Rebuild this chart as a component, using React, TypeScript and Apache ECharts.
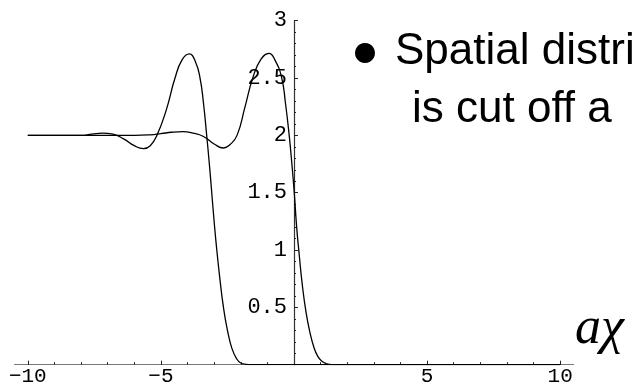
import React, { useEffect, useRef } from "react";
import * as echarts from "echarts";

// Curve that drops first (x, y)
const curveA: [number, number][] = [
  [-10, 2.0], [-9, 2.0], [-8, 2.0], [-7.6, 2.01], [-7.2, 2.02], [-6.8, 2.01],
  [-6.4, 1.97], [-6.0, 1.91], [-5.65, 1.885], [-5.4, 1.91], [-5.15, 2.0],
  [-4.8, 2.22], [-4.47, 2.5], [-4.2, 2.66], [-3.93, 2.71], [-3.7, 2.64],
  [-3.53, 2.5], [-3.4, 2.28], [-3.28, 2.0], [-3.18, 1.75], [-3.09, 1.5],
  [-2.99, 1.22], [-2.9, 1.0], [-2.78, 0.74], [-2.65, 0.5], [-2.5, 0.3],
  [-2.33, 0.14], [-2.15, 0.05], [-2.0, 0.015], [-1.8, 0.003], [-1.6, 0],
  [10, 0],
];

// Curve that drops second (x, y)
const curveB: [number, number][] = [
  [-10, 2.0], [-8, 2.0], [-6, 2.0], [-5.4, 2.005], [-5.0, 2.015], [-4.6, 2.027],
  [-4.17, 2.032], [-3.8, 2.02], [-3.4, 1.99], [-3.0, 1.925], [-2.65, 1.89],
  [-2.4, 1.92], [-2.14, 2.0], [-1.85, 2.24], [-1.55, 2.5], [-1.25, 2.66],
  [-0.94, 2.715], [-0.7, 2.65], [-0.46, 2.5], [-0.32, 2.28], [-0.18, 2.0],
  [-0.08, 1.75], [0.01, 1.5], [0.1, 1.2], [0.2, 0.95], [0.3, 0.72],
  [0.45, 0.46], [0.6, 0.28], [0.75, 0.15], [0.9, 0.07], [1.05, 0.03],
  [1.2, 0.01], [1.4, 0], [10, 0],
];

const xMinorTicks = [-10, -9, -8, -7, -6, -5, -4, -3, -2, -1, 1, 2, 3, 4, 5, 6, 7, 8, 9, 10];
const xMajorTicks = [-10, -5, 5, 10];
const yMajorTicks = [0.5, 1, 1.5, 2, 2.5, 3];

const bulletText = "Spatial distri";
const secondLine = "is cut off a";
const mathLabel = "aχ";

const fmt = (v: number) => (v < 0 ? "\u2212" + String(-v) : String(v));

export default function App() {
  const ref = useRef<HTMLDivElement>(null);
  useEffect(() => {
    if (!ref.current) return;
    const chart = echarts.init(ref.current, undefined, { renderer: "svg" });
    const labelFont = { fontFamily: "Liberation Mono", fontSize: 22, color: "#000" };
    chart.setOption({
      animation: false,
      grid: { left: 14.5, top: 20.7, width: 559, height: 344, containLabel: false, outerBoundsMode: "none" },
      xAxis: [
        {
          type: "value",
          min: -10.5,
          max: 10.5,
          axisLine: { show: true, onZero: false, lineStyle: { color: "#777", width: 1.2 } },
          axisTick: { show: true, inside: true, length: 2.5, customValues: xMinorTicks, lineStyle: { color: "#222" } },
          axisLabel: {
            show: true,
            customValues: xMajorTicks,
            formatter: fmt,
            margin: 1,
            fontFamily: "Liberation Mono",
            fontSize: 21,
            lineHeight: 21,
            color: "#000",
          },
          splitLine: { show: false },
        },
        {
          type: "value",
          min: -10.5,
          max: 10.5,
          position: "bottom",
          axisLine: { show: false, onZero: false },
          axisTick: { show: true, inside: true, length: 4, customValues: xMajorTicks, lineStyle: { color: "#222" } },
          axisLabel: { show: false },
          splitLine: { show: false },
        },
      ],
      yAxis: {
        type: "value",
        min: 0,
        max: 3,
        interval: 0.5,
        position: "left",
        offset: -279.5,
        axisLine: { show: true, onZero: false, lineStyle: { color: "#333", width: 1.2 } },
        axisTick: { show: true, inside: true, length: 4, lineStyle: { color: "#222" } },
        minorTick: { show: true, splitNumber: 5, length: 2, lineStyle: { color: "#222" } },
        axisLabel: {
          show: true,
          margin: 7,
          customValues: yMajorTicks,
          formatter: (v: number) => String(v),
          ...labelFont,
        },
        splitLine: { show: false },
        minorSplitLine: { show: false },
      },
      series: [
        {
          type: "line",
          data: curveA,
          xAxisIndex: 0,
          smooth: 0.5,
          showSymbol: false,
          lineStyle: { color: "#000", width: 1.3 },
          z: 3,
        },
        {
          type: "line",
          data: curveB,
          xAxisIndex: 0,
          smooth: 0.5,
          showSymbol: false,
          lineStyle: { color: "#000", width: 1.3 },
          z: 3,
        },
      ],
      graphic: [
        { type: "circle", shape: { cx: 365, cy: 53, r: 10 }, style: { fill: "#000" } },
        {
          type: "text",
          x: 395,
          y: 48,
          style: { text: bulletText, font: "44px 'Liberation Sans'", fill: "#000", verticalAlign: "middle", align: "left" },
        },
        {
          type: "text",
          x: 412,
          y: 106,
          style: { text: secondLine, font: "44px 'Liberation Sans'", fill: "#000", verticalAlign: "middle", align: "left" },
        },
        {
          type: "text",
          x: 575,
          y: 325,
          style: { text: mathLabel, font: "italic 52px 'Liberation Serif'", fill: "#000", verticalAlign: "middle", align: "left" },
        },
      ],
    });
    return () => chart.dispose();
  }, []);
  return <div ref={ref} style={{ position: "fixed", left: 0, top: 0, width: 635, height: 387 }} />;
}
